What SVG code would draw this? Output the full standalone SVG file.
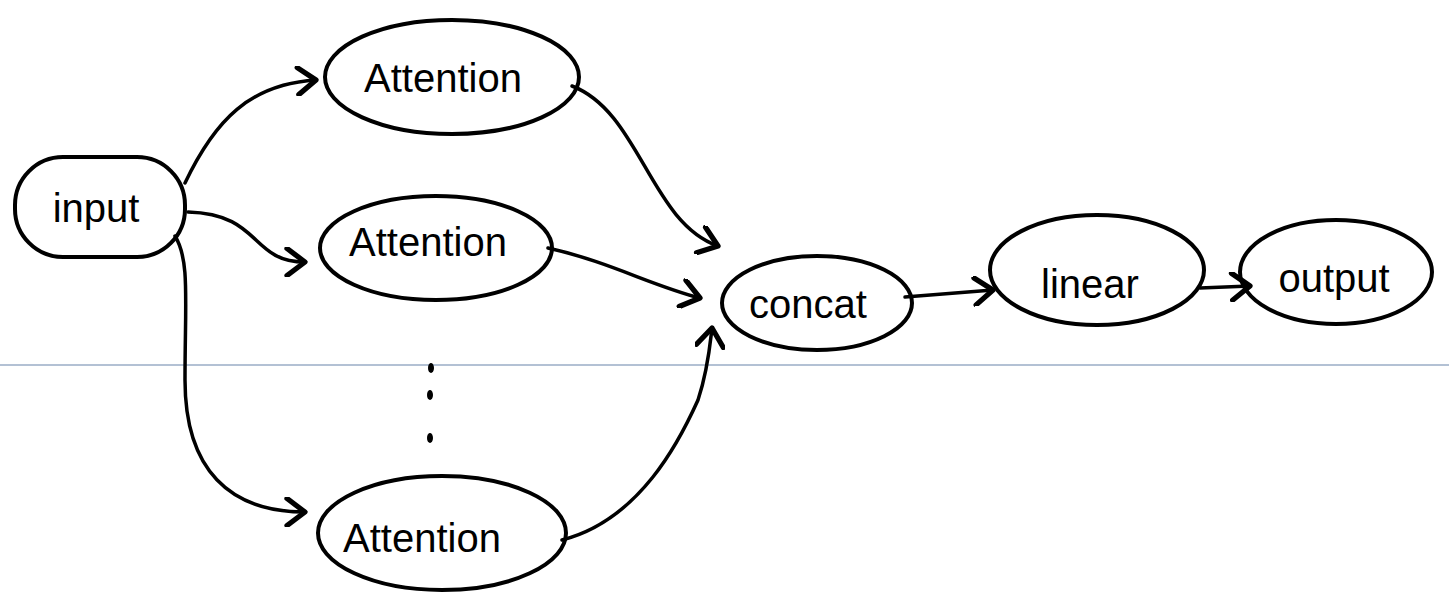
<svg xmlns="http://www.w3.org/2000/svg" width="1449" height="614" viewBox="0 0 1449 614">
<defs>
<marker id="arr" markerUnits="userSpaceOnUse" markerWidth="30" markerHeight="30" refX="14" refY="10" orient="auto" viewBox="0 0 20 20">
<path d="M2,1 L14,10 L2,19" fill="none" stroke="#000" stroke-width="3.5" stroke-linecap="round" stroke-linejoin="round"/>
</marker>
<style>
.n{fill:none;stroke:#000;stroke-width:4;stroke-linecap:round}
.t{font-family:"Liberation Sans",Arial,sans-serif;font-size:40px;fill:#000;text-anchor:middle}
.c{fill:none;stroke:#000;stroke-width:3.5;stroke-linecap:round;marker-end:url(#arr)}
</style>
</defs>
<rect width="1449" height="614" fill="#fff"/>
<line x1="0" y1="365" x2="1449" y2="365" stroke="#b3c1d4" stroke-width="2"/>
<g id="connectors">
<path class="c" d="M185,183 C215,120 250,84 316,80"/>
<path class="c" d="M188,212 C262,214 250,262 305,262"/>
<path class="c" d="M175,236 C190,260 185,300 185,380 C185,470 230,512 305,512"/>
<path class="c" d="M572,86 C640,112 650,222 718,246"/>
<path class="c" d="M548,248 C610,262 650,285 700,298"/>
<path class="c" d="M562,540 C640,520 680,440 698,400 C708,370 710,345 712,328"/>
<path class="c" d="M905,297 L993,290"/>
<path class="c" d="M1200,288 L1250,286"/>
</g>
<g id="dots" fill="#000">
<ellipse cx="431" cy="368" rx="3" ry="5"/>
<ellipse cx="430" cy="395" rx="3" ry="5"/>
<ellipse cx="430" cy="438" rx="3" ry="5"/>
</g>
<g id="input">
<rect class="n" x="15" y="157" width="170" height="100" rx="48"/>
<text class="t" x="96" y="222">input</text>
</g>
<g id="attention1">
<ellipse class="n" cx="452" cy="77" rx="127" ry="57"/>
<text class="t" x="443" y="92">Attention</text>
</g>
<g id="attention2">
<ellipse class="n" cx="436" cy="248" rx="116" ry="52"/>
<text class="t" x="428" y="256">Attention</text>
</g>
<g id="attention3">
<ellipse class="n" cx="442" cy="533" rx="124" ry="57"/>
<text class="t" x="422" y="552">Attention</text>
</g>
<g id="concat">
<ellipse class="n" cx="817" cy="303" rx="95" ry="47"/>
<text class="t" x="808" y="318">concat</text>
</g>
<g id="linear">
<ellipse class="n" cx="1097" cy="270" rx="107" ry="55"/>
<text class="t" x="1090" y="298">linear</text>
</g>
<g id="output">
<ellipse class="n" cx="1336" cy="272" rx="96" ry="52"/>
<text class="t" x="1334" y="292">output</text>
</g>
</svg>
